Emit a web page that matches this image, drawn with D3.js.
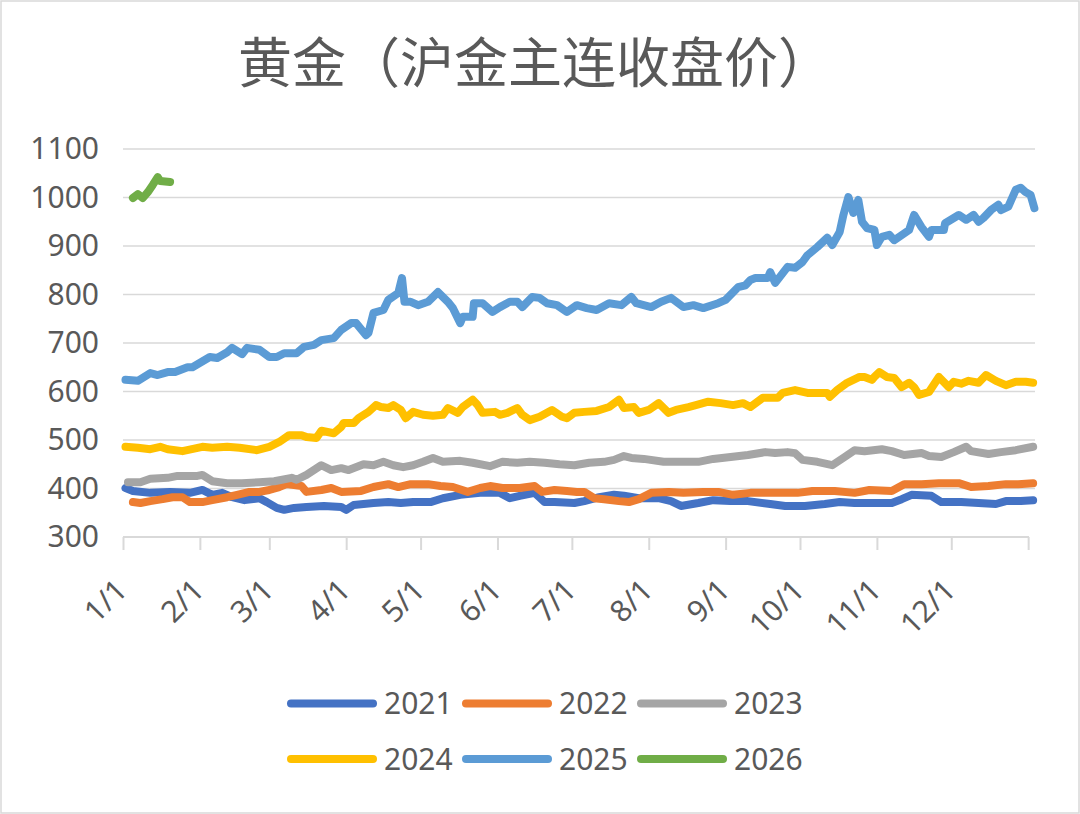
<!DOCTYPE html>
<html>
<head>
<meta charset="utf-8">
<script src="https://cdn.jsdelivr.net/npm/d3@7"></script>
<style>
  body { margin: 0; background: #fff; }
  svg { display: block; }
</style>
</head>
<body>
<div id="chart"></div>
<script>
// day-of-year / closing price pairs
const s2021 = [[1,401],[4,395],[11,391],[19,393],[27,391],[32,397],[36,387],[40,391],[44,382],[49,376],[55,380],[58,372],[62,360],[65,356],[69,360],[74,362],[81,364],[88,362],[90,356],[93,366],[101,370],[107,372],[112,370],[117,372],[124,372],[129,380],[136,387],[144,391],[150,391],[152,391],[156,380],[160,385],[166,391],[170,372],[174,372],[182,370],[186,374],[192,382],[198,387],[202,385],[208,380],[216,380],[221,374],[225,364],[232,370],[238,376],[245,374],[252,374],[261,368],[267,364],[275,364],[283,368],[289,372],[295,370],[302,370],[310,370],[314,378],[318,387],[326,385],[330,372],[338,372],[345,370],[352,368],[356,374],[362,374],[367,376]];
const s2022 = [[4,372],[7,370],[11,374],[16,378],[20,382],[24,382],[27,372],[32,372],[36,376],[42,382],[46,387],[51,393],[55,393],[59,397],[63,403],[66,409],[69,407],[72,405],[74,393],[80,397],[84,401],[88,393],[96,395],[101,403],[107,409],[111,403],[116,409],[123,409],[128,405],[133,403],[139,393],[144,401],[148,405],[153,401],[160,401],[166,405],[169,393],[174,397],[179,395],[183,393],[186,393],[190,380],[194,378],[200,374],[204,372],[208,378],[213,391],[220,393],[226,391],[234,393],[240,393],[246,387],[253,391],[261,391],[272,391],[278,395],[287,395],[295,391],[301,397],[310,395],[315,409],[322,409],[329,411],[337,411],[342,403],[349,405],[356,409],[361,409],[367,411]];
const s2023 = [[2,413],[7,413],[11,420],[18,422],[22,426],[30,426],[32,428],[36,415],[42,411],[48,411],[55,413],[61,415],[68,422],[70,418],[74,428],[80,448],[84,438],[88,442],[91,438],[97,450],[101,448],[105,455],[109,448],[113,444],[117,448],[121,455],[125,463],[129,455],[136,457],[141,453],[148,446],[153,455],[159,453],[164,455],[170,453],[176,450],[182,448],[188,453],[194,455],[198,459],[202,467],[205,463],[210,461],[218,455],[225,455],[232,455],[238,461],[245,465],[252,469],[259,475],[263,473],[268,475],[271,473],[274,459],[280,455],[286,448],[291,465],[295,479],[299,477],[306,481],[310,477],[315,469],[322,473],[325,467],[330,465],[335,475],[340,486],[342,477],[349,471],[354,475],[360,479],[367,486]];
const s2024 = [[1,486],[6,484],[11,481],[15,486],[18,481],[24,477],[32,486],[36,484],[42,486],[47,484],[54,479],[59,486],[63,496],[67,510],[72,510],[74,506],[78,504],[80,519],[85,514],[88,527],[89,535],[93,535],[95,545],[99,558],[102,572],[104,568],[107,566],[109,572],[112,562],[114,545],[117,558],[121,552],[125,550],[129,552],[131,566],[135,556],[137,568],[141,583],[143,572],[145,556],[150,558],[152,552],[155,556],[159,566],[161,552],[164,541],[168,548],[173,562],[177,548],[179,545],[182,556],[186,558],[191,560],[196,568],[200,583],[202,566],[206,568],[208,556],[212,562],[216,576],[220,556],[223,562],[228,568],[231,572],[236,579],[241,576],[246,572],[250,576],[253,568],[258,587],[264,587],[266,597],[271,603],[276,597],[284,597],[285,589],[288,603],[292,618],[297,630],[299,630],[302,624],[303,630],[305,640],[308,630],[311,628],[314,609],[317,618],[319,609],[321,593],[325,599],[329,630],[333,609],[335,620],[338,616],[341,622],[345,618],[348,634],[352,622],[356,613],[360,620],[364,620],[367,618]];
const s2025 = [[1,624],[6,622],[11,638],[14,634],[18,640],[21,640],[26,650],[28,650],[35,671],[38,669],[42,681],[44,690],[48,677],[50,690],[55,686],[59,671],[62,671],[65,679],[70,679],[73,692],[77,696],[80,706],[85,710],[88,727],[92,741],[94,741],[98,716],[99,721],[101,762],[105,768],[107,789],[111,803],[112.5,834],[113.5,785],[116,785],[119,778],[123,785],[127,805],[131,785],[133,772],[136,741],[137,754],[141,754],[141.5,782],[145,782],[149,764],[152,774],[156,785],[159,785],[161,774],[165,795],[168,793],[171,782],[175,778],[179,764],[183,778],[187,772],[191,768],[196,782],[201,778],[205,795],[207,782],[213,774],[217,785],[221,793],[226,774],[230,778],[234,772],[240,782],[243,789],[248,815],[251,819],[253,830],[255,834],[260,834],[261,846],[263,824],[268,857],[271,855],[274,867],[276,881],[280,898],[284,917],[286,902],[289,929],[290.5,964],[292.5,1001],[294.5,968],[296.5,995],[298,950],[300,937],[303,933],[304,902],[306,919],[309,923],[311,912],[317,933],[319,964],[322,939],[325,919],[326,933],[331,933],[331.5,947],[337,964],[340,954],[343,964],[345,950],[347,958],[350,974],[353,985],[354,974],[357,981],[360,1016],[362,1020],[364,1011],[366,1005],[367.5,978]];
const s2026 = [[4,999],[6,1007],[8,999],[10,1011],[12,1026],[14,1042],[15,1034],[19,1032]];

const years = ["2021", "2022", "2023", "2024", "2025", "2026"];
const colors = ["#4472C4", "#ED7D31", "#A5A5A5", "#FFC000", "#5B9BD5", "#70AD47"];
const seriesData = [s2021, s2022, s2023, s2024, s2025, s2026];

const yTicks = [300, 400, 500, 600, 700, 800, 900, 1000, 1100];
const monthDays = [0, 31, 59, 90, 120, 151, 181, 212, 243, 273, 304, 334];
const monthLabels = ["1/1", "2/1", "3/1", "4/1", "5/1", "6/1", "7/1", "8/1", "9/1", "10/1", "11/1", "12/1"];

const width = 1080, height = 814;
const textColor = "#595959", gridColor = "#D9D9D9";
const font = "'Noto Sans', 'Noto Sans CJK SC', sans-serif";

const svg = d3.select("#chart").append("svg")
    .attr("width", width)
    .attr("height", height)
    .style("font-family", font);

// chart frame
svg.append("rect")
    .attr("x", 1).attr("y", 1)
    .attr("width", width - 2).attr("height", height - 2)
    .attr("fill", "#fff")
    .attr("stroke", gridColor)
    .attr("stroke-width", 1.5);

const x = d3.scaleLinear().domain([0, 368]).range([123, 1035.6]);
const y = d3.scaleLinear().domain([300, 1100]).range([537, 149]);

// title
svg.append("text")
    .attr("x", 535)
    .attr("y", 83)
    .attr("text-anchor", "middle")
    .attr("fill", textColor)
    .style("font-family", "'Noto Sans CJK SC', sans-serif")
    .style("font-size", "54px")
    .text("黄金（沪金主连收盘价）");

// gridlines
svg.append("g")
    .selectAll("line")
    .data(yTicks.slice(1))
    .enter()
    .append("line")
    .attr("x1", 123).attr("x2", 1035)
    .attr("y1", d => y(d)).attr("y2", d => y(d))
    .attr("stroke", gridColor)
    .attr("stroke-width", 1.5);

// y axis labels
const yAxis = svg.append("g")
    .attr("transform", "translate(123,0)")
    .call(d3.axisLeft(y).tickValues(yTicks).tickSize(0).tickPadding(24).tickFormat(d3.format("d")));
yAxis.select(".domain").remove();
yAxis.selectAll("text")
    .attr("fill", textColor)
    .style("font-family", font)
    .style("font-size", "30px");

// x axis
const xAxis = svg.append("g")
    .attr("transform", `translate(0,${y(300)})`)
    .call(d3.axisBottom(x).tickValues(monthDays.concat([365])).tickSize(13).tickFormat(""));
xAxis.select(".domain")
    .attr("d", `M123,0H1029`)
    .attr("stroke", gridColor)
    .attr("stroke-width", 2);
xAxis.selectAll(".tick line")
    .attr("stroke", gridColor)
    .attr("stroke-width", 2);

svg.append("g")
    .selectAll("text")
    .data(monthDays)
    .enter()
    .append("text")
    .attr("transform", d => `translate(${x(d) + 6},${y(300) + 55}) rotate(-45)`)
    .attr("text-anchor", "end")
    .attr("fill", textColor)
    .style("font-size", "30px")
    .text((d, i) => monthLabels[i]);

// lines
const line = d3.line()
    .x(d => x(d[0]))
    .y(d => y(d[1]));

svg.append("g")
    .selectAll("path")
    .data(seriesData)
    .enter()
    .append("path")
    .attr("d", line)
    .attr("fill", "none")
    .attr("stroke", (d, i) => colors[i])
    .attr("stroke-width", 8)
    .attr("stroke-linejoin", "round")
    .attr("stroke-linecap", "round");

// legend
const legend = svg.append("g")
    .selectAll("g")
    .data(years)
    .enter()
    .append("g")
    .attr("transform", (d, i) => `translate(${291 + (i % 3) * 175},${i < 3 ? 703.5 : 759})`);

legend.append("line")
    .attr("x1", 0).attr("x2", 82)
    .attr("stroke", (d, i) => colors[i])
    .attr("stroke-width", 8)
    .attr("stroke-linecap", "round");

legend.append("text")
    .attr("x", 93)
    .attr("dy", "0.36em")
    .attr("fill", textColor)
    .style("font-size", "30px")
    .text(d => d);
</script>
</body>
</html>
